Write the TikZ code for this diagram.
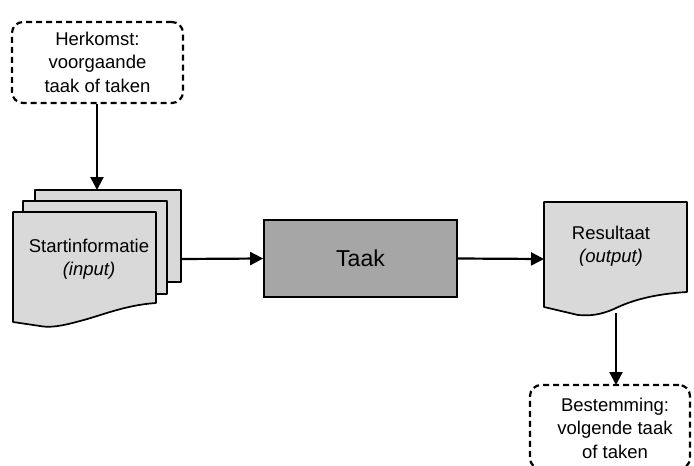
\documentclass[tikz,border=0pt]{standalone}
\usepackage{fontspec}
\setmainfont{Liberation Sans}
\usetikzlibrary{arrows.meta}
\definecolor{pagegray}{HTML}{D9D9D9}
\definecolor{taskgray}{HTML}{A6A6A6}
\begin{document}
\begin{tikzpicture}[x=1pt,y=-1pt,
  txt/.style={font=\fontsize{18.5}{23.5}\selectfont, align=center, inner sep=0pt},
  dashbox/.style={draw, line width=2.2pt, dash pattern=on 6pt off 4pt, rounded corners=11pt},
  pagebox/.style={draw, line width=1.7pt, fill=pagegray, line join=round},
  conn/.style={line width=2.2pt, -{Triangle[length=13pt,width=13pt]}}]
\useasboundingbox (0,0) rectangle (694,466);
\clip (0,0) rectangle (694,466);
% Herkomst
\node[dashbox, minimum width=171pt, minimum height=81pt, inner sep=0pt] (herk) at (97.5,62.5) {};
\node[txt] (herktxt) at (97.5,62) {Herkomst:\\voorgaande\\taak of taken};
% stacked pages
\draw[pagebox] (35,190) rectangle (181,282);
\coordinate (backtop) at (97,190);
\coordinate (backright) at (181,259);
\draw[pagebox] (23,201) rectangle (167,294);
\draw[pagebox] (13,212) -- (156,212) -- (156,303)
  .. controls (125,305) and (100,316) .. (80,321)
  .. controls (62,326) and (50,328) .. (40,326) -- (13,322) -- cycle;
\node[txt] (start) at (89,259) {Startinformatie\\\itshape (input)};
% Taak
\node[draw, line width=1.7pt, fill=taskgray, minimum width=193pt, minimum height=77pt, inner sep=0pt,
  font=\fontsize{23}{28}\selectfont] (taak) at (360.5,258.5) {Taak};
% Resultaat
\draw[pagebox] (544,202) -- (687,202) -- (687,292)
  .. controls (655,294) and (632,300) .. (614,309)
  .. controls (600,315) and (590,316) .. (578,315) -- (544,307) -- cycle;
\coordinate (resleft) at (544,259);
\coordinate (resbottom) at (616,313);
\node[txt] (res) at (611,246) {Resultaat\\\itshape (output)};
% Bestemming
\node[dashbox, minimum width=160pt, minimum height=84pt, inner sep=0pt] (best) at (610,427) {};
\coordinate (besttop) at (616,385);
\node[txt] (besttxt) at (615,428) {Bestemming:\\volgende taak\\of taken};
% connectors
\draw[conn] (herk.south -| backtop) -- (backtop);
\draw[conn] (backright) -- (taak.west);
\draw[conn] (taak.east) -- (resleft);
\draw[conn] (resbottom) -- (besttop);
\end{tikzpicture}
\end{document}
